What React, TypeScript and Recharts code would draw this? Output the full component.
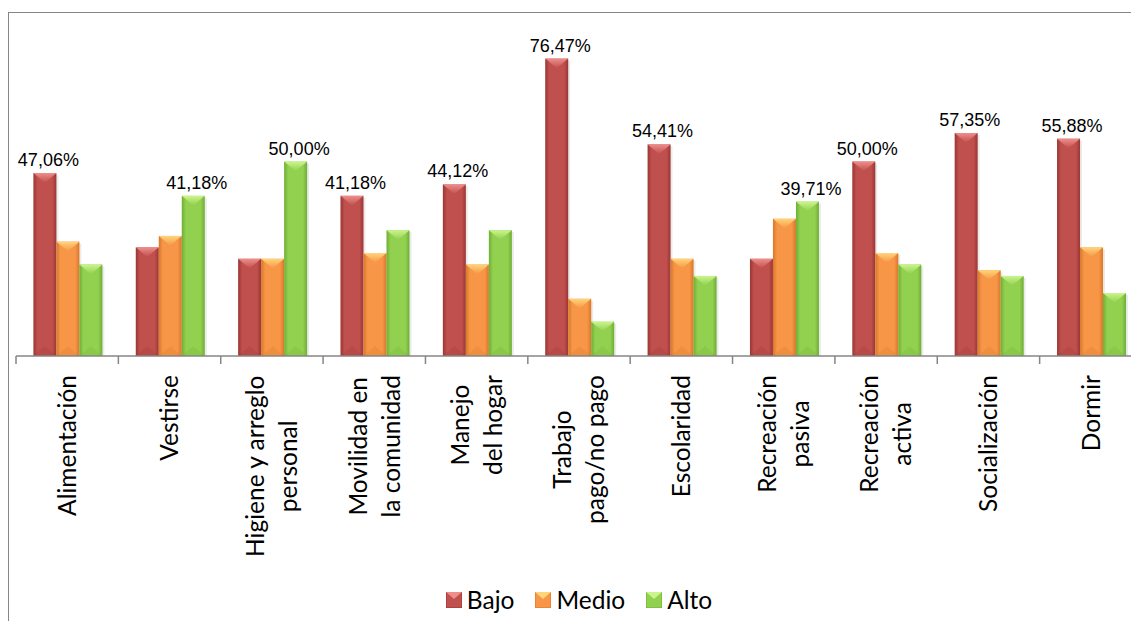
import React from 'react';
import { BarChart, Bar, XAxis, YAxis, Legend } from 'recharts';

// Datos (porcentajes por área de desempeño)
const categorias = [
    'Alimentación',
    'Vestirse',
    'Higiene y arreglo\npersonal',
    'Movilidad en\nla comunidad',
    'Manejo\ndel hogar',
    'Trabajo\npago/no pago',
    'Escolaridad',
    'Recreación\npasiva',
    'Recreación\nactiva',
    'Socialización',
    'Dormir',
];
const bajo = [47.06, 27.94, 25.0, 41.18, 44.12, 76.47, 54.41, 25.0, 50.0, 57.35, 55.88];
const medio = [29.41, 30.88, 25.0, 26.47, 23.53, 14.71, 25.0, 35.29, 26.47, 22.06, 27.94];
const alto = [23.53, 41.18, 50.0, 32.35, 32.35, 8.82, 20.59, 39.71, 23.53, 20.59, 16.18];

const series = [
    { key: 'Bajo', values: bajo, main: '#C0504D', dark: '#9A3634', light: '#EE8E8B' },
    { key: 'Medio', values: medio, main: '#F79646', dark: '#D9772A', light: '#FFD57A' },
    { key: 'Alto', values: alto, main: '#92D050', dark: '#6FAE35', light: '#CBF58C' },
];

const data = categorias.map((name, i) => ({
    name,
    Bajo: bajo[i],
    Medio: medio[i],
    Alto: alto[i],
}));

const maxPorCategoria = categorias.map((_, i) => Math.max(bajo[i], medio[i], alto[i]));

// Layout
const CHART_W = 1160;
const CHART_H = 621;
const MARGIN = { top: 6, right: 18, bottom: 1, left: 16 };
const LEGEND_H = 40;
const AXIS_Y = 356;
const XAXIS_H = CHART_H - MARGIN.bottom - LEGEND_H - AXIS_Y;
const BAND = (CHART_W - MARGIN.left - MARGIN.right) / categorias.length;
const TICK_FONT = 'Lato';
const TICK_SIZE = 24.5;
const LINE_H = 33;
const GRIS = '#868686';

let ctx: CanvasRenderingContext2D | null = null;
const medir = (t: string) => {
    if (!ctx) ctx = document.createElement('canvas').getContext('2d');
    if (!ctx) return t.length * TICK_SIZE * 0.48;
    ctx.font = `${TICK_SIZE}px ${TICK_FONT}`;
    return ctx.measureText(t).width;
};

const formato = (v: number) => v.toFixed(2).replace('.', ',') + '%';

const CategoriaTick = (props: any) => {
    const { x, payload, index } = props;
    const lineas = String(payload.value).split('\n');
    const maxW = Math.max(...lineas.map(medir));
    const b0 = 0.36 * TICK_SIZE - ((lineas.length - 1) * LINE_H) / 2;
    const izq = x - BAND / 2;
    return (
        <g>
            <line x1={izq} x2={izq} y1={AXIS_Y} y2={AXIS_Y + 8} stroke={GRIS} strokeWidth={1.5} />
            {index === categorias.length - 1 && (
                <line x1={izq + BAND} x2={izq + BAND} y1={AXIS_Y} y2={AXIS_Y + 8} stroke={GRIS} strokeWidth={1.5} />
            )}
            <text
                transform={`translate(${x},${AXIS_Y + 19}) rotate(-90)`}
                fontFamily={TICK_FONT}
                fontSize={TICK_SIZE}
                fill="#000"
            >
                {lineas.map((l, i) => (
                    <tspan key={i} x={-maxW / 2} y={b0 + i * LINE_H} textAnchor="middle">
                        {l}
                    </tspan>
                ))}
            </text>
        </g>
    );
};

const BarraBisel = (props: any) => {
    const { x, y, width, height, serie, index } = props;
    if (!height || height <= 0) return null;
    const s = series[serie];
    const id = `g-${serie}-${index}`;
    const prof = Math.min(width * 0.42, height);
    return (
        <g>
            <defs>
                <linearGradient id={id} x1="0" y1="0" x2="1" y2="0">
                    <stop offset="0%" stopColor={s.dark} />
                    <stop offset="18%" stopColor={s.main} />
                    <stop offset="82%" stopColor={s.main} />
                    <stop offset="100%" stopColor={s.dark} />
                </linearGradient>
                <linearGradient id={id + 't'} x1="0" y1="0" x2="0" y2="1">
                    <stop offset="0%" stopColor={s.light} />
                    <stop offset="100%" stopColor={s.main} />
                </linearGradient>
            </defs>
            <rect x={x + 2} y={y + 2} width={width} height={height - 2} fill="#000" opacity={0.08} />
            <rect x={x} y={y} width={width} height={height} fill={`url(#${id})`} />
            <polygon
                points={`${x},${y} ${x + width},${y} ${x + width / 2},${y + prof}`}
                fill={`url(#${id + 't'})`}
            />
            <polygon
                points={`${x},${y + height} ${x + width},${y + height} ${x + width / 2},${y + height - prof}`}
                fill={s.dark}
                opacity={0.25}
            />
        </g>
    );
};

const EtiquetaValor = (props: any) => {
    const { x, y, width, value, index } = props;
    if (value !== maxPorCategoria[index]) return null;
    return (
        <text
            x={x + width / 2 + 3.5}
            y={y - 7}
            textAnchor="middle"
            fontFamily="'Liberation Sans', Arial, sans-serif"
            fontSize={18}
            fill="#000"
        >
            {formato(value)}
        </text>
    );
};

const LeyendaBisel = () => (
    <div
        style={{
            height: LEGEND_H,
            display: 'flex',
            justifyContent: 'center',
            alignItems: 'center',
            fontFamily: TICK_FONT,
            fontSize: 24.5,
            color: '#000',
        }}
    >
        {series.map((s, i) => (
            <div key={s.key} style={{ display: 'flex', alignItems: 'center', marginLeft: i === 0 ? 0 : 21 }}>
                <svg width={16} height={16} style={{ marginRight: 5 }}>
                    <rect x={0} y={0} width={16} height={16} fill={s.main} stroke={s.dark} strokeWidth={1} />
                    <polygon points="0,0 16,0 8,7" fill={s.light} />
                </svg>
                <span style={{ lineHeight: '24px' }}>{s.key}</span>
            </div>
        ))}
    </div>
);

export default function App() {
    return (
        <div
            style={{
                position: 'absolute',
                left: 0,
                top: 0,
                width: 1131,
                height: 621,
                overflow: 'hidden',
                background: '#fff',
            }}
        >
            <div
                style={{
                    position: 'absolute',
                    left: 8,
                    top: 12,
                    width: 1200,
                    height: 700,
                    borderTop: `1.5px solid ${GRIS}`,
                    borderLeft: `1.5px solid ${GRIS}`,
                    pointerEvents: 'none',
                }}
            />
            <div style={{ position: 'absolute', left: 0, top: 0 }}>
                <BarChart
                    width={CHART_W}
                    height={CHART_H}
                    data={data}
                    margin={MARGIN}
                    barCategoryGap="17%"
                    barGap={0}
                >
                    <XAxis
                        dataKey="name"
                        interval={0}
                        height={XAXIS_H}
                        tickLine={false}
                        axisLine={{ stroke: GRIS, strokeWidth: 1.5 }}
                        tick={<CategoriaTick />}
                    />
                    <YAxis hide domain={[0, 90]} />
                    <Legend verticalAlign="bottom" content={<LeyendaBisel />} />
                    {series.map((s, si) => (
                        <Bar
                            key={s.key}
                            dataKey={s.key}
                            fill={s.main}
                            isAnimationActive={false}
                            shape={(p: any) => <BarraBisel {...p} serie={si} />}
                            label={(p: any) => <EtiquetaValor {...p} />}
                        />
                    ))}
                </BarChart>
            </div>
        </div>
    );
}
